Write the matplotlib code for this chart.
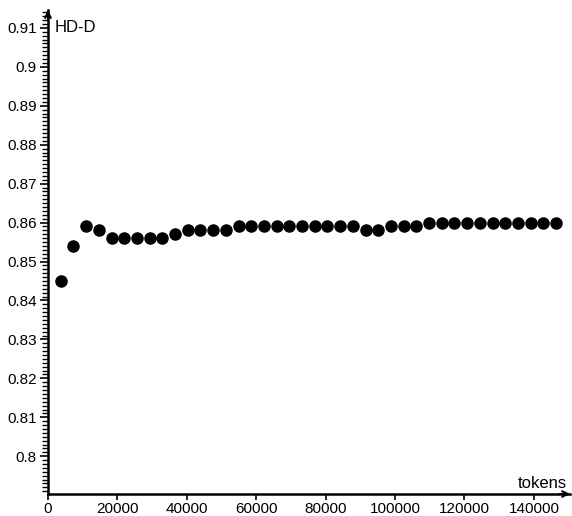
import numpy as np
import matplotlib
matplotlib.use("Agg")
import matplotlib.pyplot as plt
from matplotlib.ticker import MultipleLocator, FormatStrFormatter

# HD-D measured over growing text samples
tokens = [3660, 7320, 10980, 14640, 18300, 21960, 25620, 29280, 32940, 36600,
          40260, 43920, 47580, 51240, 54900, 58560, 62220, 65880, 69540, 73200,
          76860, 80520, 84180, 87840, 91500, 95160, 98820, 102480, 106140, 109800,
          113460, 117120, 120780, 124440, 128100, 131760, 135420, 139080, 142740, 146400]
hdd = [0.845, 0.854, 0.859, 0.858, 0.856, 0.856, 0.856, 0.856, 0.856, 0.857,
       0.858, 0.858, 0.858, 0.858, 0.859, 0.859, 0.859, 0.859, 0.859, 0.859,
       0.859, 0.859, 0.859, 0.859, 0.858, 0.858, 0.859, 0.859, 0.859, 0.860,
       0.860, 0.860, 0.860, 0.860, 0.860, 0.860, 0.860, 0.860, 0.860, 0.860]

x_ticks = [0, 20000, 40000, 60000, 80000, 100000, 120000, 140000]
y_ticks = [0.8, 0.81, 0.82, 0.83, 0.84, 0.85, 0.86, 0.87, 0.88, 0.89, 0.9, 0.91]

plt.rcParams["font.family"] = ["Liberation Sans", "DejaVu Sans"]

W, H = 572, 516
fig = plt.figure(figsize=(W / 100, H / 100), dpi=100)
ax = fig.add_axes([48 / W, 22 / H, (570 - 48) / W, (494 - 10) / H])

ax.scatter(tokens, hdd, s=8.0 ** 2, color="black", zorder=3, clip_on=False)

ax.set_xlim(0, 150400)
ax.set_ylim(0.7903, 0.9146)

for side in ["top", "right"]:
    ax.spines[side].set_visible(False)
for side in ["left", "bottom"]:
    ax.spines[side].set_linewidth(1.8)
    ax.spines[side].set_color("black")

ax.set_xticks(x_ticks)
ax.set_xticklabels([str(t) for t in x_ticks])
ax.set_yticks(y_ticks)
ax.yaxis.set_major_formatter(FormatStrFormatter("%g"))
ax.yaxis.set_minor_locator(MultipleLocator(0.001))
ax.tick_params(axis="x", direction="out", length=4, width=1.2, labelsize=11, pad=1.5)
ax.tick_params(axis="y", which="major", direction="out", length=6, width=1.2,
               labelsize=11, pad=2)
ax.tick_params(axis="y", which="minor", direction="out", length=4, width=1.0)

# arrow heads on the axis ends
ax.annotate("", xy=(1.0, 0), xytext=(0.98, 0), xycoords="axes fraction",
            arrowprops=dict(arrowstyle="->", lw=1.5, color="black",
                            mutation_scale=10, shrinkA=0, shrinkB=0))
ax.annotate("", xy=(0, 1.0), xytext=(0, 0.98), xycoords="axes fraction",
            arrowprops=dict(arrowstyle="->", lw=1.5, color="black",
                            mutation_scale=10, shrinkA=0, shrinkB=0))

ax.text(55 / W, 1 - 28 / H, "HD-D", transform=fig.transFigure, fontsize=12,
        ha="left", va="center")
ax.text(567 / W, 1 - 484 / H, "tokens", transform=fig.transFigure, fontsize=12,
        ha="right", va="center")

fig.savefig("out.png", dpi=100)
